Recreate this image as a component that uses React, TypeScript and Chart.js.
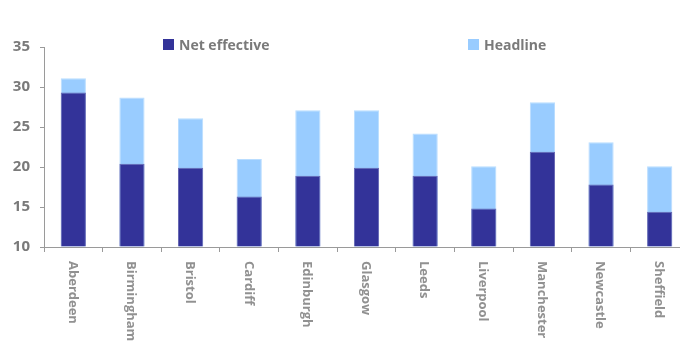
import React, { useEffect, useRef } from "react";
import { Chart, registerables } from "chart.js";

Chart.register(...registerables);

const categories = [
  "Aberdeen", "Birmingham", "Bristol", "Cardiff", "Edinburgh", "Glasgow",
  "Leeds", "Liverpool", "Manchester", "Newcastle", "Sheffield",
];
const netEffective = [29.3, 20.4, 19.9, 16.3, 18.9, 19.9, 18.9, 14.8, 21.9, 17.8, 14.4];
const headline = [31.1, 28.7, 26.1, 21.0, 27.1, 27.1, 24.2, 20.1, 28.1, 23.1, 20.1];
const yMin = 10;
const yMax = 35;
const yStep = 5;

const NET_COLOR = "#333399";
const HEAD_COLOR = "#99ccff";
const TEXT_GRAY = "#7a7a7a";
const LABEL_GRAY = "#919191";
const AXIS_GRAY = "#9a9a9a";
const FONT = "'Open Sans', 'DejaVu Sans', sans-serif";

const rotatedLabels = {
  id: "rotatedLabels",
  afterDraw(chart: any) {
    const ctx = chart.ctx;
    const xs = chart.scales.x;
    const bottom = chart.chartArea.bottom;
    ctx.save();
    ctx.fillStyle = LABEL_GRAY;
    ctx.font = `bold 13px ${FONT}`;
    ctx.textAlign = "left";
    ctx.textBaseline = "middle";
    categories.forEach((label, i) => {
      const x = xs.getPixelForValue(i);
      ctx.save();
      ctx.translate(x - 1, bottom + 14);
      ctx.rotate(Math.PI / 2);
      ctx.fillText(label, 0, 0);
      ctx.restore();
    });
    ctx.restore();
  },
};

export default function App() {
  const canvasRef = useRef<HTMLCanvasElement>(null);

  useEffect(() => {
    if (!canvasRef.current) return;
    const chart = new Chart(canvasRef.current, {
      type: "bar",
      data: {
        labels: categories,
        datasets: [
          {
            label: "Net effective",
            data: netEffective,
            backgroundColor: NET_COLOR,
            borderColor: "#6a6ab4",
            borderWidth: 1,
            base: yMin,
          } as any,
          {
            label: "Headline",
            data: headline,
            backgroundColor: HEAD_COLOR,
            borderColor: "#b9ddff",
            borderWidth: 1,
            base: yMin,
          } as any,
        ],
      },
      options: {
        animation: false,
        responsive: false,
        devicePixelRatio: 1,
        layout: { padding: { top: 47, right: 11, bottom: 0, left: 0 } },
        datasets: {
          bar: { categoryPercentage: 1, barPercentage: 0.43 },
        },
        plugins: {
          legend: { display: false },
          tooltip: { enabled: false },
          title: { display: false },
        },
        scales: {
          x: {
            stacked: true,
            offset: true,
            grid: {
              offset: true,
              drawOnChartArea: false,
              drawTicks: true,
              tickLength: 5,
              color: AXIS_GRAY,
            },
            border: { display: true, color: AXIS_GRAY, width: 1 },
            ticks: { display: false },
            afterFit: (scale: any) => {
              scale.height = 94;
            },
          },
          y: {
            stacked: false,
            min: yMin,
            max: yMax,
            grid: {
              drawOnChartArea: false,
              drawTicks: true,
              tickLength: 4,
              color: AXIS_GRAY,
            },
            border: { display: true, color: AXIS_GRAY, width: 1 },
            ticks: {
              stepSize: yStep,
              padding: 10,
              color: TEXT_GRAY,
              font: { family: FONT, size: 15, weight: "bold" },
            },
            afterFit: (scale: any) => {
              scale.width = 44;
            },
          },
        },
      },
      plugins: [rotatedLabels],
    });
    return () => chart.destroy();
  }, []);

  const legendText: React.CSSProperties = {
    position: "absolute",
    fontFamily: FONT,
    fontWeight: "bold",
    fontSize: "14px",
    color: TEXT_GRAY,
    lineHeight: "14px",
    top: 38,
    whiteSpace: "nowrap",
  };
  const box = (left: number, color: string): React.CSSProperties => ({
    position: "absolute",
    left,
    top: 39,
    width: 11,
    height: 11,
    background: color,
  });

  return (
    <div
      style={{
        position: "absolute",
        left: 0,
        top: 0,
        width: 680,
        height: 341,
        overflow: "hidden",
        background: "#ffffff",
      }}
    >
      <canvas
        ref={canvasRef}
        width={700}
        height={341}
        style={{ position: "absolute", left: 0, top: 0, width: 700, height: 341 }}
      />
      <div style={box(163, NET_COLOR)} />
      <div style={{ ...legendText, left: 179 }}>Net effective</div>
      <div style={box(468, HEAD_COLOR)} />
      <div style={{ ...legendText, left: 484 }}>Headline</div>
    </div>
  );
}
